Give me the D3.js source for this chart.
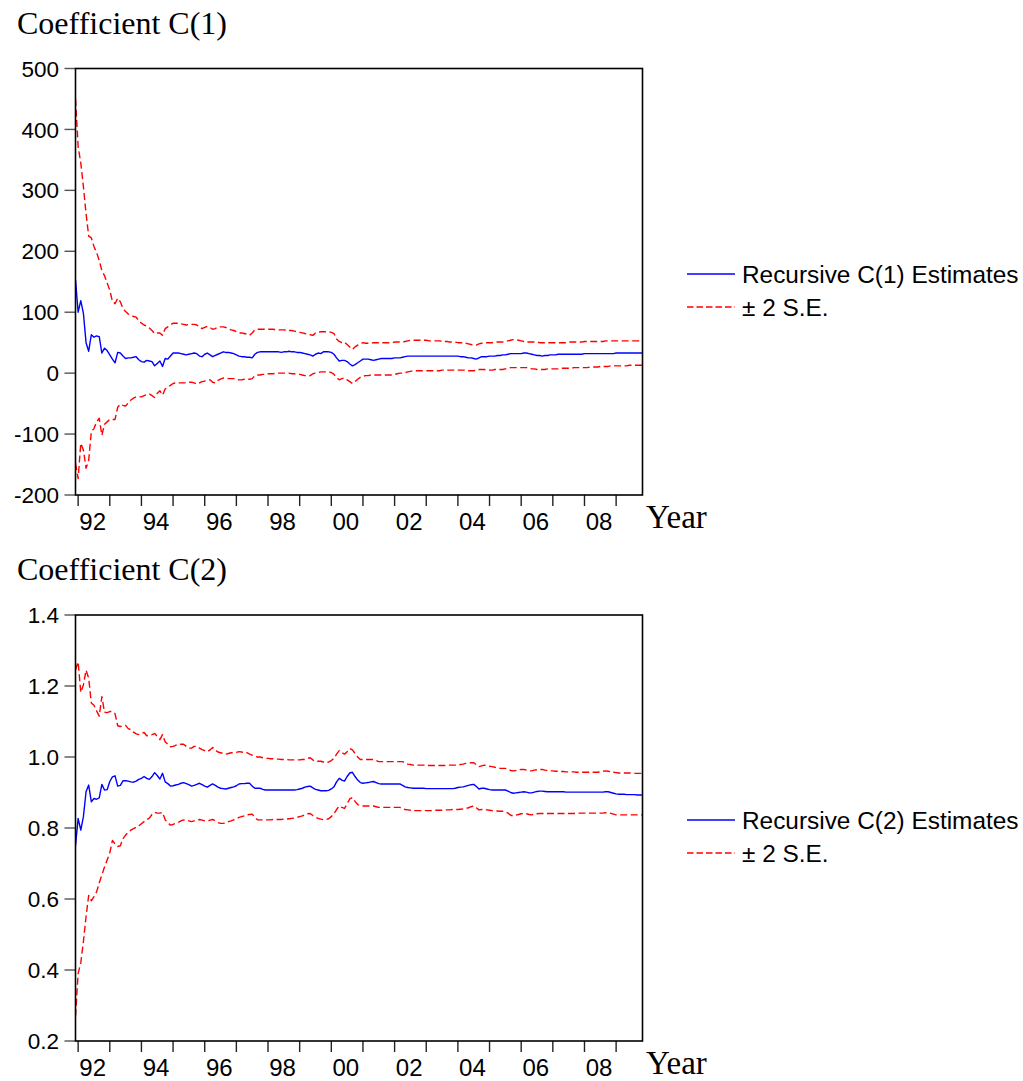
<!DOCTYPE html>
<html>
<head>
<meta charset="utf-8">
<script src="https://cdn.jsdelivr.net/npm/d3@7"></script>
<style>
  html, body { margin: 0; padding: 0; background: #ffffff; }
  svg { display: block; }
</style>
</head>
<body>
<svg id="chart" width="1023" height="1081"></svg>
<script>
// Monthly recursive estimates, Dec 1991 through Nov 2009.
// Rows: Dec 1991, then one row per calendar year.
const startYear = 1991 + 11 / 12;

const c1Est = [
  153,
  100, 119, 98, 50, 36, 63, 59, 61, 60, 33, 41, 37,
  30, 23, 17, 34, 33, 28, 24, 25, 25, 26, 27, 22,
  19, 18, 21, 20, 19, 12, 16, 20, 11, 24, 23, 28,
  33, 33, 33, 32, 31, 30, 31, 32, 33, 32, 28, 27,
  31, 33, 30, 27, 29, 31, 33, 35, 34, 34, 33, 32,
  30, 28, 27, 27, 26, 26, 25, 31, 34, 35, 35, 35,
  35, 35, 35, 35, 35, 34, 35, 35, 36, 35, 35, 34,
  34, 33, 32, 31, 30, 28, 31, 33, 32, 35, 35, 35,
  34, 31, 25, 20, 21, 21, 19, 15, 12, 14, 17, 20,
  23, 23, 23, 22, 21, 22, 23, 24, 24, 24, 24, 24,
  25, 25, 25, 26, 27, 28, 28, 28, 28, 28, 28, 28,
  28, 28, 28, 28, 28, 28, 28, 28, 28, 28, 28, 28,
  28, 27, 27, 26, 25, 25, 24, 23, 25, 27, 27, 27,
  28, 28, 28, 29, 29, 30, 30, 31, 32, 32, 32, 32,
  32, 33, 33, 32, 31, 30, 29, 29, 28, 29, 29, 30,
  30, 30, 31, 31, 31, 31, 31, 31, 31, 31, 31, 31,
  32, 32, 32, 32, 32, 32, 32, 32, 32, 32, 32, 32,
  33, 33, 33, 33, 33, 33, 33, 33, 33, 33, 33
];

const c1Upper = [
  450,
  372, 345, 306, 262, 225, 222, 208, 198, 185, 168, 160, 148,
  136, 118, 114, 123, 117, 106, 101, 97, 95, 93, 92, 86,
  82, 79, 77, 74, 70, 65, 66, 66, 62, 73, 76, 79,
  82, 82, 82, 81, 80, 79, 80, 80, 80, 79, 76, 73,
  75, 77, 75, 72, 73, 76, 76, 76, 75, 73, 71, 70,
  68, 66, 66, 65, 64, 62, 66, 71, 72, 72, 72, 72,
  72, 72, 72, 71, 71, 71, 71, 70, 70, 70, 69, 68,
  67, 66, 65, 64, 63, 62, 66, 67, 68, 68, 68, 68,
  67, 65, 56, 52, 50, 51, 47, 43, 39, 43, 46, 48,
  50, 49, 49, 49, 50, 50, 50, 50, 50, 50, 50, 50,
  51, 51, 51, 51, 52, 53, 54, 54, 54, 54, 54, 54,
  54, 53, 53, 53, 53, 53, 52, 52, 52, 51, 51, 51,
  50, 50, 50, 49, 48, 47, 46, 46, 48, 49, 50, 50,
  50, 50, 51, 51, 51, 51, 52, 53, 54, 55, 55, 54,
  53, 52, 51, 51, 51, 51, 51, 50, 50, 50, 50, 50,
  50, 50, 50, 50, 50, 50, 51, 51, 51, 51, 51, 51,
  52, 52, 52, 52, 52, 52, 52, 52, 53, 53, 53, 53,
  53, 53, 53, 53, 53, 53, 53, 53, 53, 53, 53
];

const c1Lower = [
  -148,
  -173, -115, -126, -156, -143, -96, -91, -80, -74, -102, -84, -80,
  -76, -76, -76, -56, -51, -53, -54, -49, -44, -41, -39, -39,
  -39, -37, -35, -34, -37, -40, -33, -29, -36, -26, -23, -20,
  -17, -16, -16, -16, -16, -16, -15, -15, -16, -18, -16, -14,
  -13, -12, -11, -15, -16, -12, -10, -8, -8, -9, -9, -9,
  -10, -11, -11, -10, -10, -10, -9, -4, -3, -3, -2, -2,
  -1, -1, -1, 0, 0, 0, 0, 0, 0, -1, -1, -2,
  -2, -3, -4, -5, -4, -1, 0, 1, 2, 2, 2, 2,
  1, -2, -7, -11, -9, -8, -11, -14, -17, -14, -10, -7,
  -5, -4, -4, -3, -3, -3, -3, -3, -3, -3, -3, -3,
  -2, -1, 0, 0, 1, 2, 3, 4, 4, 4, 4, 4,
  4, 4, 4, 4, 4, 4, 5, 5, 5, 5, 5, 5,
  5, 5, 5, 5, 4, 4, 4, 5, 6, 6, 6, 5,
  5, 5, 6, 6, 6, 6, 7, 8, 9, 9, 9, 9,
  9, 9, 9, 8, 7, 7, 6, 6, 6, 6, 7, 7,
  7, 7, 7, 8, 8, 8, 8, 8, 9, 9, 9, 9,
  9, 9, 10, 10, 10, 10, 11, 11, 11, 11, 12, 12,
  12, 12, 12, 12, 12, 13, 13, 13, 13, 13, 13
];

const c2Est = [
  0.750,
  0.827, 0.794, 0.832, 0.902, 0.921, 0.874, 0.883, 0.881, 0.885, 0.923, 0.907, 0.908,
  0.931, 0.944, 0.947, 0.918, 0.920, 0.933, 0.933, 0.932, 0.930, 0.929, 0.932, 0.937,
  0.940, 0.945, 0.940, 0.937, 0.945, 0.956, 0.948, 0.938, 0.954, 0.930, 0.925, 0.918,
  0.919, 0.921, 0.923, 0.926, 0.928, 0.925, 0.922, 0.918, 0.920, 0.923, 0.926, 0.922,
  0.918, 0.915, 0.920, 0.924, 0.920, 0.915, 0.912, 0.911, 0.910, 0.912, 0.914, 0.916,
  0.919, 0.924, 0.925, 0.925, 0.926, 0.926, 0.918, 0.912, 0.912, 0.912, 0.909, 0.907,
  0.907, 0.907, 0.907, 0.907, 0.907, 0.907, 0.907, 0.907, 0.907, 0.907, 0.907, 0.908,
  0.910, 0.912, 0.915, 0.917, 0.918, 0.913, 0.909, 0.907, 0.905, 0.905, 0.905, 0.906,
  0.910, 0.916, 0.930, 0.940, 0.935, 0.932, 0.945, 0.955, 0.957, 0.945, 0.935, 0.928,
  0.926, 0.927, 0.928, 0.930, 0.931, 0.928, 0.925, 0.924, 0.924, 0.924, 0.924, 0.924,
  0.924, 0.924, 0.924, 0.920, 0.916, 0.914, 0.913, 0.912, 0.912, 0.912, 0.912, 0.912,
  0.911, 0.911, 0.911, 0.911, 0.911, 0.911, 0.911, 0.911, 0.911, 0.911, 0.911, 0.912,
  0.914, 0.915, 0.916, 0.918, 0.920, 0.922, 0.923, 0.917, 0.910, 0.912, 0.912, 0.910,
  0.908, 0.907, 0.907, 0.907, 0.907, 0.907, 0.907, 0.904, 0.900, 0.898, 0.899, 0.900,
  0.901, 0.902, 0.901, 0.899, 0.899, 0.901, 0.903, 0.904, 0.904, 0.903, 0.902, 0.902,
  0.902, 0.902, 0.902, 0.902, 0.902, 0.901, 0.901, 0.901, 0.901, 0.901, 0.901, 0.901,
  0.901, 0.901, 0.901, 0.901, 0.901, 0.901, 0.901, 0.901, 0.902, 0.902, 0.900, 0.898,
  0.896, 0.895, 0.895, 0.895, 0.894, 0.894, 0.894, 0.894, 0.893, 0.893, 0.893
];

const c2Upper = [
  1.245,
  1.268, 1.182, 1.203, 1.245, 1.222, 1.152, 1.146, 1.130, 1.115, 1.170, 1.126, 1.125,
  1.128, 1.128, 1.122, 1.088, 1.086, 1.088, 1.089, 1.080, 1.077, 1.070, 1.065, 1.063,
  1.066, 1.069, 1.060, 1.061, 1.063, 1.066, 1.058, 1.049, 1.063, 1.043, 1.036, 1.029,
  1.030, 1.033, 1.035, 1.036, 1.036, 1.030, 1.025, 1.025, 1.030, 1.030, 1.025, 1.021,
  1.018, 1.015, 1.020, 1.027, 1.020, 1.014, 1.012, 1.010, 1.008, 1.010, 1.012, 1.012,
  1.013, 1.015, 1.014, 1.012, 1.012, 1.008, 1.005, 1.002, 1.000, 1.000, 0.998, 0.996,
  0.996, 0.995, 0.995, 0.994, 0.994, 0.993, 0.993, 0.993, 0.992, 0.992, 0.992, 0.992,
  0.992, 0.993, 0.993, 0.996, 0.998, 0.992, 0.987, 0.988, 0.988, 0.986, 0.984, 0.986,
  0.990, 0.996, 1.008, 1.018, 1.012, 1.008, 1.015, 1.024, 1.020, 1.010, 1.000, 0.993,
  0.993, 0.993, 0.993, 0.993, 0.993, 0.990, 0.987, 0.987, 0.987, 0.987, 0.987, 0.987,
  0.987, 0.987, 0.987, 0.987, 0.983, 0.980, 0.979, 0.977, 0.977, 0.977, 0.977, 0.977,
  0.976, 0.976, 0.976, 0.976, 0.976, 0.976, 0.976, 0.976, 0.977, 0.977, 0.977, 0.977,
  0.977, 0.979, 0.980, 0.982, 0.983, 0.984, 0.984, 0.978, 0.973, 0.975, 0.977, 0.976,
  0.974, 0.973, 0.971, 0.969, 0.968, 0.968, 0.968, 0.966, 0.962, 0.961, 0.962, 0.964,
  0.965, 0.965, 0.963, 0.961, 0.961, 0.963, 0.964, 0.965, 0.965, 0.963, 0.962, 0.961,
  0.961, 0.960, 0.960, 0.959, 0.959, 0.958, 0.958, 0.958, 0.958, 0.957, 0.957, 0.957,
  0.957, 0.957, 0.957, 0.957, 0.957, 0.957, 0.958, 0.960, 0.961, 0.960, 0.958, 0.957,
  0.956, 0.955, 0.955, 0.955, 0.955, 0.955, 0.954, 0.954, 0.954, 0.954, 0.954
];

const c2Lower = [
  0.270,
  0.390, 0.420, 0.480, 0.550, 0.610, 0.595, 0.607, 0.620, 0.645, 0.668, 0.690, 0.710,
  0.730, 0.765, 0.755, 0.748, 0.750, 0.770, 0.780, 0.788, 0.794, 0.798, 0.802, 0.806,
  0.812, 0.818, 0.823, 0.828, 0.838, 0.844, 0.842, 0.842, 0.844, 0.823, 0.815, 0.808,
  0.810, 0.813, 0.816, 0.820, 0.823, 0.822, 0.820, 0.818, 0.820, 0.822, 0.824, 0.822,
  0.820, 0.820, 0.822, 0.824, 0.820, 0.815, 0.813, 0.813, 0.814, 0.818, 0.820, 0.823,
  0.826, 0.830, 0.832, 0.834, 0.837, 0.838, 0.839, 0.830, 0.823, 0.823, 0.823, 0.823,
  0.823, 0.823, 0.824, 0.824, 0.824, 0.824, 0.825, 0.825, 0.826, 0.827, 0.828, 0.830,
  0.832, 0.834, 0.837, 0.840, 0.841, 0.835, 0.830, 0.827, 0.825, 0.824, 0.824, 0.826,
  0.832, 0.840, 0.852, 0.862, 0.858, 0.855, 0.868, 0.882, 0.886, 0.875, 0.866, 0.863,
  0.862, 0.862, 0.862, 0.862, 0.862, 0.860, 0.858, 0.858, 0.858, 0.858, 0.858, 0.858,
  0.858, 0.858, 0.858, 0.855, 0.852, 0.851, 0.850, 0.849, 0.849, 0.849, 0.849, 0.849,
  0.849, 0.849, 0.849, 0.850, 0.850, 0.850, 0.850, 0.851, 0.851, 0.851, 0.852, 0.852,
  0.852, 0.853, 0.854, 0.855, 0.857, 0.860, 0.862, 0.857, 0.851, 0.852, 0.852, 0.851,
  0.850, 0.849, 0.848, 0.848, 0.847, 0.847, 0.846, 0.842, 0.836, 0.834, 0.836, 0.838,
  0.840, 0.841, 0.840, 0.838, 0.837, 0.839, 0.840, 0.841, 0.841, 0.841, 0.841, 0.841,
  0.841, 0.841, 0.841, 0.841, 0.841, 0.841, 0.841, 0.841, 0.841, 0.842, 0.842, 0.842,
  0.842, 0.842, 0.842, 0.842, 0.842, 0.842, 0.842, 0.842, 0.843, 0.843, 0.841, 0.839,
  0.837, 0.837, 0.837, 0.837, 0.837, 0.837, 0.837, 0.837, 0.837, 0.837, 0.837
];

// Axis ticks and labels
const yearTicks = d3.range(1992, 2010);
const yearLabelYears = [1992, 1994, 1996, 1998, 2000, 2002, 2004, 2006, 2008];
const yearLabels = ["92", "94", "96", "98", "00", "02", "04", "06", "08"];
const c1TickValues = [500, 400, 300, 200, 100, 0, -100, -200];
const c2TickValues = [1.4, 1.2, 1.0, 0.8, 0.6, 0.4, 0.2];

const SANS = "'Liberation Sans', Arial, sans-serif";
const SERIF = "'Liberation Serif', 'Times New Roman', serif";
const BLUE = "#0000ff";
const RED = "#ff0000";

const svg = d3.select("#chart");

const plotLeft = 75.5, plotRight = 642.5;
const x = d3.scaleLinear()
  .domain([startYear, startYear + 215 / 12])
  .range([plotLeft, plotRight]);

function drawPanel(cfg) {
  const g = svg.append("g");
  const y = d3.scaleLinear().domain(cfg.domain).range([cfg.bottom, cfg.top]);

  // title
  g.append("text")
    .attr("x", 17).attr("y", cfg.top - 35)
    .attr("font-family", SERIF).attr("font-size", 32)
    .attr("fill", "#000")
    .text(cfg.title);

  // y ticks and labels
  g.selectAll(".ytick").data(cfg.ticks).enter().append("line")
    .attr("x1", plotLeft - 11).attr("x2", plotLeft)
    .attr("y1", d => y(d)).attr("y2", d => y(d))
    .attr("stroke", "#555").attr("stroke-width", 1.4);
  g.selectAll(".ylab").data(cfg.ticks).enter().append("text")
    .attr("x", 59).attr("y", d => y(d))
    .attr("dy", "0.36em")
    .attr("text-anchor", "end")
    .attr("font-family", SANS).attr("font-size", 22.5)
    .attr("fill", "#000")
    .text(d => cfg.fmt(d));

  // x ticks and labels
  g.selectAll(".xtick").data(yearTicks).enter().append("line")
    .attr("x1", d => x(d)).attr("x2", d => x(d))
    .attr("y1", cfg.bottom).attr("y2", cfg.bottom + 11)
    .attr("stroke", "#222").attr("stroke-width", 1.4);
  g.selectAll(".xlab").data(yearLabelYears).enter().append("text")
    .attr("x", d => x(d + 0.46))
    .attr("y", cfg.bottom + 35)
    .attr("text-anchor", "middle")
    .attr("font-family", SANS).attr("font-size", 24)
    .attr("fill", "#000")
    .text((d, i) => yearLabels[i]);

  g.append("text")
    .attr("x", 646).attr("y", cfg.bottom + 33)
    .attr("font-family", SERIF).attr("font-size", 33)
    .attr("fill", "#000")
    .text("Year");

  // series
  const line = d3.line()
    .x((d, i) => x(startYear + i / 12))
    .y(d => y(d));

  const clipId = "clip-" + cfg.key;
  svg.append("clipPath").attr("id", clipId).append("rect")
    .attr("x", plotLeft).attr("y", cfg.top)
    .attr("width", plotRight - plotLeft).attr("height", cfg.bottom - cfg.top);

  const plot = g.append("g").attr("clip-path", `url(#${clipId})`);
  [cfg.upper, cfg.lower].forEach(s => {
    plot.append("path").datum(s)
      .attr("d", line)
      .attr("fill", "none")
      .attr("stroke", RED).attr("stroke-width", 1.4)
      .attr("stroke-dasharray", "7,3.5")
      .attr("stroke-linejoin", "round");
  });
  plot.append("path").datum(cfg.est)
    .attr("d", line)
    .attr("fill", "none")
    .attr("stroke", BLUE).attr("stroke-width", 1.4)
    .attr("stroke-linejoin", "round");

  // frame
  g.append("rect")
    .attr("x", plotLeft).attr("y", cfg.top)
    .attr("width", plotRight - plotLeft).attr("height", cfg.bottom - cfg.top)
    .attr("fill", "none").attr("stroke", "#000").attr("stroke-width", 1.6);

  // legend
  const ly = cfg.legendY;
  g.append("line")
    .attr("x1", 687).attr("x2", 735).attr("y1", ly).attr("y2", ly)
    .attr("stroke", BLUE).attr("stroke-width", 1.3);
  g.append("text")
    .attr("x", 742).attr("y", ly + 8.5)
    .attr("font-family", SANS).attr("font-size", 24.4)
    .attr("fill", "#000")
    .text(cfg.legendText);
  g.append("line")
    .attr("x1", 687).attr("x2", 735).attr("y1", ly + 33).attr("y2", ly + 33)
    .attr("stroke", RED).attr("stroke-width", 1.3)
    .attr("stroke-dasharray", "6.5,3");
  g.append("text")
    .attr("x", 742).attr("y", ly + 33 + 8.5)
    .attr("font-family", SANS).attr("font-size", 24.4)
    .attr("fill", "#000")
    .text("\u00B1 2 S.E.");
}

drawPanel({
  key: "c1",
  title: "Coefficient C(1)",
  domain: [-200, 500], top: 68.5, bottom: 495,
  ticks: c1TickValues, fmt: d => String(d),
  est: c1Est, upper: c1Upper, lower: c1Lower,
  legendY: 274, legendText: "Recursive C(1) Estimates"
});

drawPanel({
  key: "c2",
  title: "Coefficient C(2)",
  domain: [0.2, 1.4], top: 615, bottom: 1041,
  ticks: c2TickValues, fmt: d3.format(".1f"),
  est: c2Est, upper: c2Upper, lower: c2Lower,
  legendY: 820, legendText: "Recursive C(2) Estimates"
});
</script>
</body>
</html>
